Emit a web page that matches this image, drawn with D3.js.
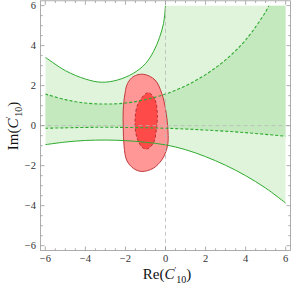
<!DOCTYPE html>
<html><head><meta charset="utf-8">
<script src="https://cdn.jsdelivr.net/npm/d3@7"></script>
<style>body{margin:0;background:#fff}svg{display:block}</style>
</head><body><svg id="c" width="291" height="289"></svg>
<script>
const xTicks=[-6,-4,-2,0,2,4,6];
const yTicks=[-6,-4,-2,0,2,4,6];
const upperSolid=[[-6,3.42],[-5,2.75],[-4,2.33],[-3.2,2.17],[-2.4,2.28],[-1.6,2.62],[-1.0,3.1],[-0.6,3.7],[-0.3,4.4],[-0.1,5.1],[0,6.0]];
const lowerSolid=[[-6,-0.95],[-5,-0.82],[-4,-0.74],[-3,-0.72],[-2,-0.75],[-1,-0.83],[0,-0.96],[1,-1.2],[2,-1.55],[3,-1.98],[4,-2.5],[5,-3.12],[6,-3.87]];
const upperDashed=[[-6,1.58],[-5,1.30],[-4,1.13],[-3,1.08],[-2,1.13],[-1,1.30],[0,1.58],[1,1.99],[2,2.55],[3,3.29],[4,4.28],[5,5.69],[5.16,6.0]];
const lowerDashed=[[-6,-0.13],[-4,-0.09],[-3,-0.08],[-2,-0.09],[0,-0.13],[2,-0.22],[4,-0.35],[6,-0.53]];
const outerRed=[[-1.11,2.57],[-0.52,2.28],[-0.19,1.62],[0.01,0.78],[0.11,-0.05],[0.12,-0.9],[-0.02,-1.4],[-0.19,-1.72],[-0.61,-2.13],[-1.19,-2.29],[-1.61,-2.13],[-1.94,-1.72],[-2.07,-1.0],[-2.11,-0.05],[-2.11,0.78],[-2.02,1.62],[-1.9,2.1],[-1.61,2.45]];
const innerRed=[[-0.86,1.65],[-0.52,1.28],[-0.41,0.62],[-0.44,-0.05],[-0.61,-0.88],[-0.94,-1.17],[-1.19,-1.05],[-1.44,-0.55],[-1.52,0.28],[-1.36,1.12]];
const xLim=[-6,6], yLim=[-6,6];

const svg=d3.select('#c');
const x=d3.scaleLinear().domain([-6.24,6.24]).range([40.5,290.5]);
const y=d3.scaleLinear().domain([-6.24,6.24]).range([250.5,0.8]);

const defs=svg.append('defs');
defs.append('clipPath').attr('id','clip').append('rect')
  .attr('x',x(xLim[0])).attr('y',y(yLim[1])).attr('width',x(xLim[1])-x(xLim[0])).attr('height',y(yLim[0])-y(yLim[1]));

const line=d3.line().x(d=>x(d[0])).y(d=>y(d[1])).curve(d3.curveCatmullRom);
const closed=d3.line().x(d=>x(d[0])).y(d=>y(d[1])).curve(d3.curveCatmullRomClosed);
function seg(pts){return line(pts).replace(/^M/,'L');}

const g=svg.append('g').attr('clip-path','url(#clip)');
const lightPath=line(lowerSolid)+`L${x(xLim[1])},${y(yLim[1])}`+seg(upperSolid.slice().reverse())+'Z';
g.append('path').attr('d',lightPath).attr('fill','#e0f4dc');
const darkPath=line(lowerDashed)+`L${x(xLim[1])},${y(yLim[1])}`+seg(upperDashed.slice().reverse())+'Z';
g.append('path').attr('d',darkPath).attr('fill','#c4e9bf');

g.append('path').attr('d',closed(outerRed)).attr('fill','#ff9797').attr('stroke','#c0393b').attr('stroke-width',1);
g.append('path').attr('d',closed(innerRed)).attr('fill','#ff4a4a').attr('stroke','#b83030').attr('stroke-width',1).attr('stroke-dasharray','3,2');

const green='#2eaa2e';
g.append('path').attr('d',line(upperSolid)).attr('fill','none').attr('stroke',green).attr('stroke-width',1);
g.append('path').attr('d',line(lowerSolid)).attr('fill','none').attr('stroke',green).attr('stroke-width',1);
g.append('path').attr('d',line(upperDashed)).attr('fill','none').attr('stroke',green).attr('stroke-width',1.1).attr('stroke-dasharray','3,2');
g.append('path').attr('d',line(lowerDashed)).attr('fill','none').attr('stroke',green).attr('stroke-width',1.1).attr('stroke-dasharray','3,2');

svg.append('line').attr('x1',x(0)).attr('x2',x(0)).attr('y1',y(6.24)).attr('y2',y(-6.24)).attr('stroke','#b8b8b8').attr('stroke-width',0.8).attr('stroke-dasharray','4,3');
svg.append('line').attr('x1',x(-6.24)).attr('x2',x(6.24)).attr('y1',y(0)).attr('y2',y(0)).attr('stroke','#b8b8b8').attr('stroke-width',0.8).attr('stroke-dasharray','4,3');

const fx0=x.range()[0], fx1=x.range()[1], fy0=y.range()[0], fy1=y.range()[1];
const frameColor='#999';
svg.append('rect').attr('x',fx0).attr('y',fy1).attr('width',fx1-fx0).attr('height',fy0-fy1).attr('fill','none').attr('stroke',frameColor).attr('stroke-width',0.8);
const minor=d3.range(-6,6.001,0.5);
const tk=svg.append('g').attr('stroke',frameColor).attr('stroke-width',0.8);
minor.forEach(v=>{
  const L = (Math.abs(v%2)<1e-9)?4:2.2;
  tk.append('line').attr('x1',x(v)).attr('x2',x(v)).attr('y1',fy0).attr('y2',fy0-L);
  tk.append('line').attr('x1',x(v)).attr('x2',x(v)).attr('y1',fy1).attr('y2',fy1+L);
  tk.append('line').attr('y1',y(v)).attr('y2',y(v)).attr('x1',fx0).attr('x2',fx0+L);
  tk.append('line').attr('y1',y(v)).attr('y2',y(v)).attr('x1',fx1).attr('x2',fx1-L);
});
const fmt=v=>v<0?'\u2212'+Math.abs(v):String(v);
const font='Liberation Serif, Times New Roman, serif';
svg.append('g').selectAll('text').data(xTicks).join('text')
  .attr('x',d=>x(d)).attr('y',262).attr('text-anchor','middle')
  .attr('font-family',font).attr('font-size',10.5).attr('fill','#333').text(fmt);
svg.append('g').selectAll('text').data(yTicks).join('text')
  .attr('x',36).attr('y',d=>y(d)+3.5).attr('text-anchor','end')
  .attr('font-family',font).attr('font-size',10.5).attr('fill','#333').text(fmt);

function title(sel,prefix){
  sel.attr('font-family',font).attr('font-size',15).attr('fill','#111').attr('text-anchor','middle');
  sel.append('tspan').text(prefix+'(');
  sel.append('tspan').attr('font-style','italic').text('C');
  sel.append('tspan').attr('font-size',8).attr('dy',-6).attr('dx',0).text('\u2032');
  sel.append('tspan').attr('font-size',10).attr('dy',10).attr('dx',0).text('10');
  sel.append('tspan').attr('dy',-4).text(')');
}
title(svg.append('text').attr('x',167).attr('y',279),'Re');
title(svg.append('text').attr('transform','translate(18,126) rotate(-90)'),'Im');
</script></body></html>
